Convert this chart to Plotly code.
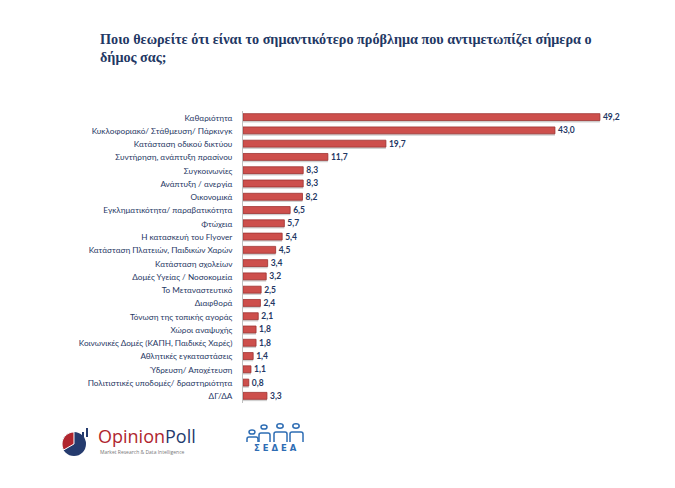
import plotly.graph_objects as go
import math

categories = [
    "Καθαριότητα",
    "Κυκλοφοριακό/ Στάθμευση/ Πάρκινγκ",
    "Κατάσταση οδικού δικτύου",
    "Συντήρηση, ανάπτυξη πρασίνου",
    "Συγκοινωνίες",
    "Ανάπτυξη / ανεργία",
    "Οικονομικά",
    "Εγκληματικότητα/ παραβατικότητα",
    "Φτώχεια",
    "Η κατασκευή του Flyover",
    "Κατάσταση Πλατειών, Παιδικών Χαρών",
    "Κατάσταση σχολείων",
    "Δομές Υγείας / Νοσοκομεία",
    "Το Μεταναστευτικό",
    "Διαφθορά",
    "Τόνωση της τοπικής αγοράς",
    "Χώροι αναψυχής",
    "Κοινωνικές Δομές (ΚΑΠΗ, Παιδικές Χαρές)",
    "Αθλητικές εγκαταστάσεις",
    "Ύδρευση/ Αποχέτευση",
    "Πολιτιστικές υποδομές/ δραστηριότητα",
    "ΔΓ/ΔΑ",
]
values = [49.2, 43.0, 19.7, 11.7, 8.3, 8.3, 8.2, 6.5, 5.7, 5.4, 4.5, 3.4, 3.2,
          2.5, 2.4, 2.1, 1.8, 1.8, 1.4, 1.1, 0.8, 3.3]
labels = [f"{v:.1f}".replace(".", ",") for v in values]

W, H = 675, 488
L, R, T, B = 243, 33, 111, 85
PW, PH = W - L - R, H - T - B

def px(x):
    return (x - L) / PW

def py(y):
    return (H - B - y) / PH

NAVY = "#1F3864"
FONT = "Lato, Open Sans, sans-serif"

fig = go.Figure()
# shadow
fig.add_trace(go.Bar(
    y=categories, x=values, orientation="h",
    marker=dict(color="rgba(0,0,0,0.18)", line=dict(width=0)),
    width=0.56, offset=-0.2, hoverinfo="skip", showlegend=False,
))
fig.add_trace(go.Bar(
    y=categories, x=values, orientation="h",
    marker=dict(color="#CD4F4C", line=dict(color="#9E3432", width=0.8)),
    width=0.52, offset=-0.3,
    text=labels, textposition="outside", cliponaxis=False,
    constraintext="none", texttemplate="<b>%{text}</b>",
    textfont=dict(family=FONT, size=8.5, color=NAVY),
    showlegend=False,
))

fig.update_layout(
    width=W, height=H,
    margin=dict(l=L, r=R, t=T, b=B),
    paper_bgcolor="white", plot_bgcolor="white",
    barmode="overlay", bargap=0.45,
    font=dict(family=FONT, size=8, color=NAVY),
    xaxis=dict(range=[0, 55], showgrid=False, zeroline=False,
               showticklabels=False, showline=False, fixedrange=True),
    yaxis=dict(categoryorder="array", categoryarray=categories,
               autorange="reversed", showgrid=False, zeroline=False,
               showline=True, linecolor="#BFBFBF", linewidth=1,
               ticks="", ticklabelstandoff=8,
               tickfont=dict(family=FONT, size=8.2, color=NAVY)),
)

# title
fig.add_annotation(
    xref="paper", yref="paper", x=px(98), y=py(29), xanchor="left", yanchor="top",
    text="<b>Ποιο θεωρείτε ότι είναι το σημαντικότερο πρόβλημα που αντιμετωπίζει σήμερα ο<br>δήμος σας;</b>",
    showarrow=False, align="left",
    font=dict(family="Liberation Serif, serif", size=14.2, color=NAVY),
)

shapes = []
# OpinionPoll pie icon
cx, cy, r = 74, 444, 12
shapes.append(dict(type="circle", xref="paper", yref="paper",
                   x0=px(cx - r), x1=px(cx + r), y0=py(cy + r), y1=py(cy - r),
                   fillcolor="#253B6E", line=dict(width=0)))
pts = [(cx, cy)]
for a in range(90, 211, 10):
    ang = math.radians(a)
    pts.append((cx + r * math.cos(ang), cy - r * math.sin(ang)))
path = "M " + " L ".join(f"{px(x):.4f},{py(y):.4f}" for x, y in pts) + " Z"
shapes.append(dict(type="path", xref="paper", yref="paper", path=path,
                   fillcolor="#B0262E", line=dict(color="white", width=1)))
for bx, top in [(78, 436), (82, 432), (86, 428)]:
    shapes.append(dict(type="rect", xref="paper", yref="paper",
                       x0=px(bx), x1=px(bx + 2), y0=py(437), y1=py(top),
                       fillcolor="#253B6E", line=dict(width=0)))

# ΣΕΔΕΑ logo figures
BLUE = "#2E6DB4"
heads = [(252, 432, 3.0), (264, 427, 3.0), (280, 426, 3.2), (296, 426, 3.2)]
for hx, hy, hr in heads:
    shapes.append(dict(type="circle", xref="paper", yref="paper",
                       x0=px(hx - hr), x1=px(hx + hr), y0=py(hy + hr * 0.7), y1=py(hy - hr * 0.7),
                       line=dict(color=BLUE, width=1.5), fillcolor="white"))
bodies = [(247, 258, 437), (259, 270, 433), (274, 287, 432), (290, 303, 432)]
for x0, x1, y0 in bodies:
    p = (f"M {px(x0):.4f},{py(442):.4f} L {px(x0):.4f},{py(y0 + 2):.4f} "
         f"Q {px(x0):.4f},{py(y0):.4f} {px(x0 + 2):.4f},{py(y0):.4f} "
         f"L {px(x1 - 2):.4f},{py(y0):.4f} Q {px(x1):.4f},{py(y0):.4f} {px(x1):.4f},{py(y0 + 2):.4f} "
         f"L {px(x1):.4f},{py(442):.4f}")
    shapes.append(dict(type="path", xref="paper", yref="paper", path=p,
                       line=dict(color=BLUE, width=1.5)))
fig.update_layout(shapes=shapes)

fig.add_annotation(xref="paper", yref="paper", x=px(97), y=py(436), xanchor="left", yanchor="middle",
                   text="<span style='color:#B0262E'>Opinion</span><span style='color:#253B6E'>Poll</span>",
                   showarrow=False, borderpad=0,
                   font=dict(family="Open Sans, sans-serif", size=18))
fig.add_annotation(xref="paper", yref="paper", x=px(99), y=py(451.5), xanchor="left", yanchor="middle",
                   text="Market Research &amp; Data Intelligence", showarrow=False, borderpad=0,
                   font=dict(family="Open Sans, sans-serif", size=5, color="#777777"))
fig.add_annotation(xref="paper", yref="paper", x=px(275), y=py(448), xanchor="center", yanchor="middle",
                   text="<b>Σ Ε Δ Ε Α</b>", showarrow=False,
                   font=dict(family="DejaVu Sans, sans-serif", size=8.5, color=BLUE))

fig.write_html("out.html")
